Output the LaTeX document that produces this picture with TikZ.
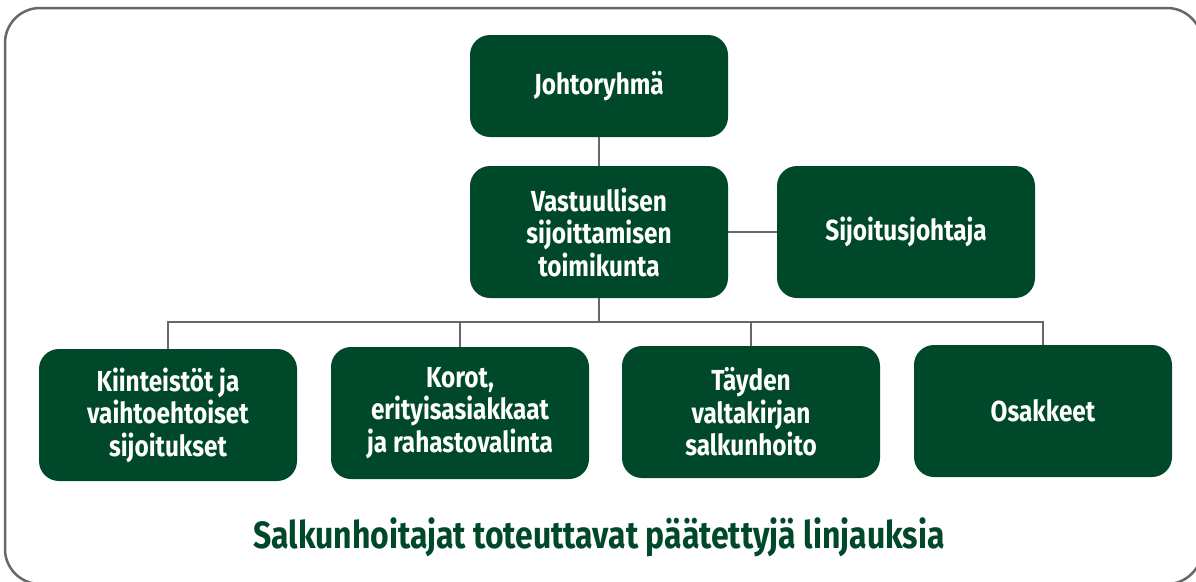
\documentclass[tikz,border=0pt]{standalone}
\usepackage{fontspec}
\setmainfont{Fira Sans}
\newfontfamily\boxfont[FakeStretch=0.84]{Fira Sans}
\newfontfamily\titlefont[FakeStretch=0.84]{Fira Sans}
\definecolor{boardgreen}{HTML}{00482A}
\definecolor{linkgray}{HTML}{676767}

\begin{document}
\begin{tikzpicture}[
    x=1pt, y=-1pt,
    unit/.style={
        rectangle, rounded corners=20pt, fill=boardgreen, draw=none,
        text=white, align=center, inner sep=0pt,
        minimum width=258pt, minimum height=132pt,
        font=\boxfont\bfseries\fontsize{29}{32.5}\selectfont
    },
    link/.style={draw=linkgray, line width=2.5pt},
    frame/.style={draw=linkgray, line width=2.5pt, rounded corners=35pt}
]
    \useasboundingbox (0,0) rectangle (1196,581);
    \draw [frame] (5,8) rectangle (1202,584);

    % top of the hierarchy
    \node (board) [unit, minimum height=102pt] at (599,86) {Johtoryhmä};
    \node (committee) [unit] at (599,232) {Vastuullisen\\sijoittamisen\\toimikunta};
    \node (cio) [unit] at (906,232) {Sijoitusjohtaja};

    % portfolio teams
    \node (estate) [unit] at (168,415) {Kiinteistöt ja\\vaihtoehtoiset\\sijoitukset};
    \node (rates) [unit] at (460,413) {Korot,\\erityisasiakkaat\\ja rahastovalinta};
    \node (mandate) [unit] at (751,412) {Täyden\\valtakirjan\\salkunhoito};
    \node (equity) [unit] at (1043,411) {Osakkeet};

    \node (slogan) [text=boardgreen, font=\titlefont\bfseries\fontsize{38}{42}\selectfont]
        at (599,537) {Salkunhoitajat toteuttavat päätettyjä linjauksia};

    \coordinate (bus) at (599,322);

    \draw [link] (board) -- (committee);
    \draw [link] (committee) -- (cio);
    \draw [link] (committee) -- (bus);
    \foreach \team in {estate,rates,mandate,equity}
        \draw [link] (bus) -| (\team.north);
\end{tikzpicture}
\end{document}
